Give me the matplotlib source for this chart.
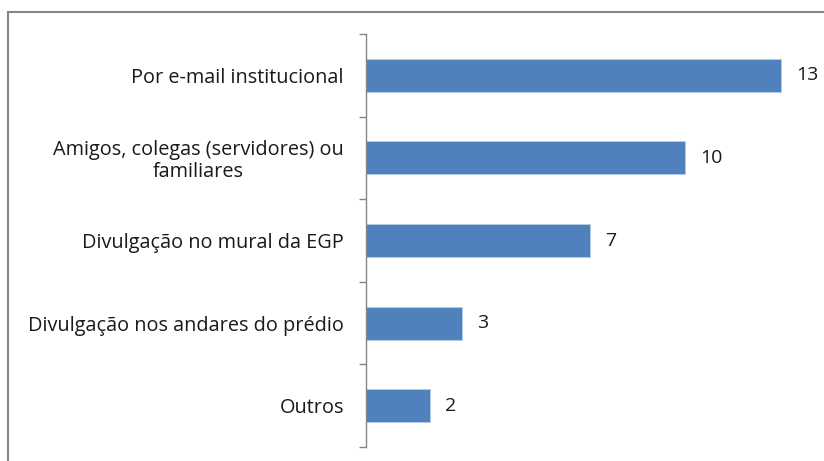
import matplotlib
matplotlib.use('Agg')
import matplotlib.pyplot as plt
from matplotlib.patches import Rectangle

categories = ['Por e-mail institucional',
              'Amigos, colegas (servidores) ou\nfamiliares',
              'Divulgação no mural da EGP',
              'Divulgação nos andares do prédio',
              'Outros']
values = [13, 10, 7, 3, 2]

plt.rcParams['font.family'] = ['Open Sans', 'DejaVu Sans']

fig = plt.figure(figsize=(8.24, 4.61), dpi=100)
ax = fig.add_axes([366 / 824, 1 - 447 / 461, 447 / 824, 413 / 461])

pos = list(range(len(categories)))
ax.barh(pos, values, height=0.4, color='#4F81BD', edgecolor='#B9CDE5', linewidth=0.6)
ax.set_ylim(len(categories) - 0.5, -0.5)
ax.set_xlim(0, 14)

for p, v in zip(pos, values):
    ax.annotate(str(v), (v, p), xytext=(11, 0), textcoords='offset points',
                va='center', ha='left', fontsize=14, color='#1a1a1a')

ax.set_yticks(pos)
ax.set_yticklabels(categories, fontsize=14.3, color='#1a1a1a',
                   multialignment='center', linespacing=1.1)
ax.set_yticks([i - 0.5 for i in range(len(categories) + 1)], minor=True)
ax.tick_params(axis='y', which='major', length=0, pad=16)
ax.tick_params(axis='y', which='minor', length=5, width=1, color='#868686')
ax.set_xticks([])
for s in ['top', 'right', 'bottom']:
    ax.spines[s].set_visible(False)
ax.spines['left'].set_color('#868686')
ax.spines['left'].set_linewidth(1)

# chart border (cut off at right and bottom)
fig.patches.append(Rectangle((8 / 824, -0.1), 1.2, 1 - 12 / 461 + 0.1,
                             transform=fig.transFigure, fill=False,
                             edgecolor='#868686', linewidth=1.5))

fig.savefig('out.png', dpi=100)
